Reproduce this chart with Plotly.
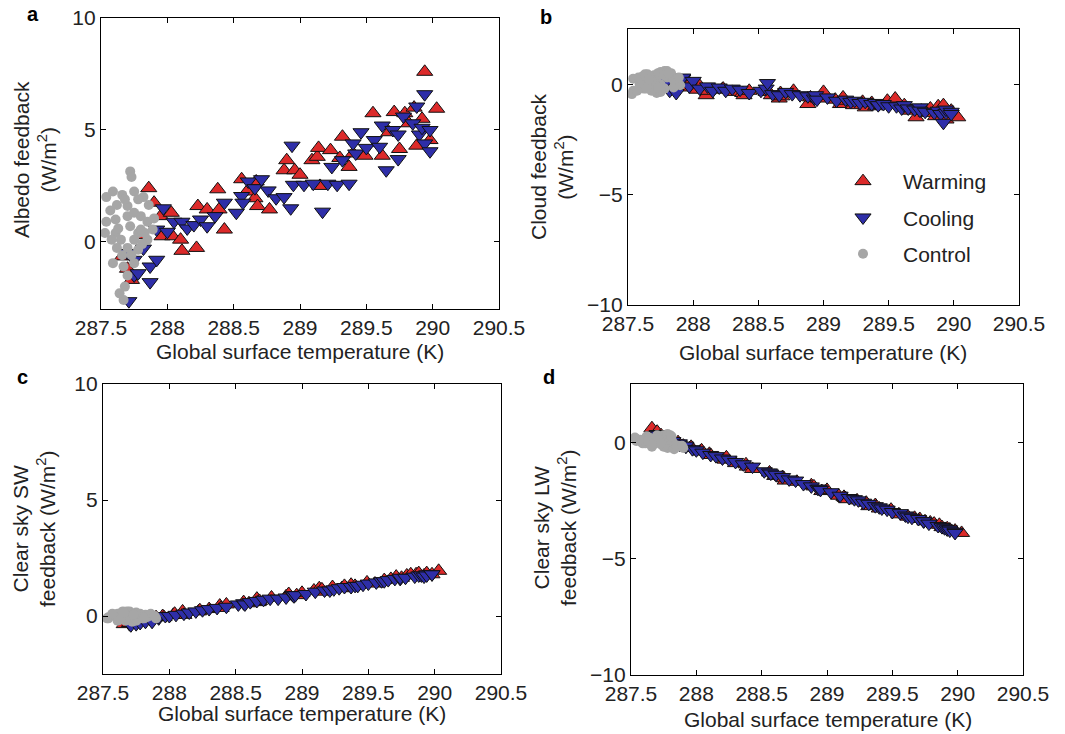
import plotly.graph_objects as go

# ---------------- data ----------------
warm_T = [287.66, 287.70, 287.73, 287.80, 287.86, 287.90, 287.95, 287.96, 288.03, 288.04,
          288.10, 288.11, 288.22, 288.23, 288.30, 288.38, 288.39, 288.43, 288.56, 288.60,
          288.66, 288.67, 288.68, 288.77, 288.88, 288.90, 288.96, 289.00, 289.09, 289.13,
          289.14, 289.15, 289.23, 289.30, 289.32, 289.37, 289.40, 289.49, 289.55, 289.62,
          289.67, 289.71, 289.75, 289.79, 289.82, 289.86, 289.88, 289.92, 289.94, 289.98, 290.03]
warm_albedo = [-0.65, -1.2, -1.7, 0.3, 2.4, 1.75, 1.15, 0.25, 1.3, 0.25,
               0.1, -0.4, -0.27, 1.6, 1.45, 2.35, 1.45, 0.55, 2.8, 2.25,
               1.95, 2.7, 1.6, 1.45, 3.2, 3.65, 3.2, 3.0, 3.65, 3.8,
               4.2, 2.5, 4.1, 3.75, 4.7, 3.35, 3.95, 3.85, 5.75, 3.85,
               4.9, 5.8, 4.15, 5.75, 5.3, 6.0, 4.3, 5.5, 7.6, 4.55, 5.95]
warm_cloud = [0.05, 0.1, 0.0, 0.15, 0.2, -0.1, -0.15, 0.1, -0.25, 0.0,
              -0.5, -0.3, -0.25, -0.2, -0.35, -0.4, -0.5, -0.3, -0.35, -0.5,
              -0.65, -0.4, -0.55, -0.3, -0.9, -0.6, -0.65, -0.35, -0.7, -0.9,
              -0.75, -0.6, -0.95, -0.8, -1.05, -0.85, -1.0, -0.75, -0.65, -0.95,
              -1.2, -1.5, -1.2, -1.3, -1.1, -1.45, -1.0, -0.95, -1.6, -1.2, -1.5]
warm_sw = [-0.35, -0.3, -0.25, -0.2, -0.1, -0.05, 0.0, -0.05, 0.05, 0.1,
           0.2, 0.05, 0.2, 0.25, 0.3, 0.45, 0.35, 0.5, 0.6, 0.55,
           0.75, 0.6, 0.65, 0.8, 0.85, 0.95, 0.9, 1.0, 1.1, 1.2,
           1.05, 1.15, 1.25, 1.2, 1.3, 1.35, 1.3, 1.45, 1.4, 1.55,
           1.6, 1.7, 1.65, 1.75, 1.8, 1.8, 1.85, 1.75, 1.85, 1.8, 1.95]
warm_lw = [0.6, 0.45, 0.3, 0.15, 0.0, -0.15, -0.25, -0.2, -0.4, -0.35,
           -0.5, -0.55, -0.75, -0.65, -0.9, -0.95, -1.05, -1.15, -1.3, -1.45,
           -1.5, -1.55, -1.65, -1.7, -1.85, -1.9, -2.1, -2.05, -2.3, -2.35,
           -2.4, -2.45, -2.5, -2.6, -2.75, -2.7, -2.85, -2.9, -3.1, -3.2,
           -3.25, -3.3, -3.4, -3.45, -3.5, -3.55, -3.65, -3.7, -3.75, -3.8, -3.9]

cool_T = [287.70, 287.71, 287.75, 287.75, 287.78, 287.82, 287.87, 287.87, 287.92, 287.92,
          287.97, 288.00, 288.05, 288.11, 288.15, 288.20, 288.25, 288.30, 288.36, 288.43,
          288.52, 288.56, 288.57, 288.61, 288.66, 288.71, 288.76, 288.82, 288.88, 288.93,
          288.94, 288.95, 289.03, 289.10, 289.17, 289.21, 289.24, 289.28, 289.32, 289.37,
          289.40, 289.42, 289.46, 289.50, 289.56, 289.60, 289.62, 289.65, 289.70, 289.74,
          289.74, 289.78, 289.85, 289.88, 289.90, 289.92, 289.94, 289.94, 289.98, 289.98]
cool_albedo = [-0.5, -2.65, -0.8, -1.5, -1.4, -0.3, -1.1, -1.8, -0.8, 0.55,
               1.5, 0.45, 0.9, 0.9, 0.6, 0.75, 1.0, 0.7, 1.15, 1.75,
               1.3, 2.05, 1.75, 2.7, 2.4, 2.8, 2.3, 1.95, 2.0, 1.5,
               4.3, 2.55, 2.55, 2.6, 1.35, 2.6, 3.35, 2.55, 3.65, 2.6,
               4.4, 3.95, 4.9, 4.2, 4.55, 4.25, 5.2, 3.2, 5.0, 4.8,
               3.7, 5.6, 5.3, 6.05, 4.8, 5.1, 6.6, 4.4, 5.0, 4.05]
cool_cloud = [-0.1, -0.2, 0.1, -0.15, 0.0, -0.3, -0.2, -0.4, 0.25, 0.3,
              -0.1, 0.15, -0.2, -0.1, -0.3, -0.15, -0.3, -0.2, -0.25, -0.4,
              -0.3, -0.2, 0.05, -0.45, -0.5, -0.35, -0.45, -0.5, -0.55, -0.65,
              -0.5, -0.7, -0.6, -0.75, -0.7, -0.8, -0.75, -0.85, -0.8, -0.9,
              -0.85, -0.95, -0.9, -1.0, -1.0, -1.1, -0.95, -1.1, -1.15, -1.05,
              -1.2, -1.25, -1.3, -1.2, -1.35, -1.75, -1.3, -1.15, -1.25, -1.35]
cool_sw = [-0.35, -0.4, -0.3, -0.35, -0.3, -0.25, -0.2, -0.25, -0.1, -0.05,
           0.0, 0.0, 0.05, 0.1, 0.15, 0.2, 0.25, 0.3, 0.35, 0.4,
           0.5, 0.55, 0.5, 0.6, 0.65, 0.7, 0.75, 0.75, 0.8, 0.9,
           0.85, 0.9, 0.95, 1.05, 1.1, 1.1, 1.15, 1.2, 1.25, 1.25,
           1.3, 1.3, 1.35, 1.4, 1.45, 1.5, 1.5, 1.55, 1.6, 1.6,
           1.65, 1.65, 1.7, 1.75, 1.75, 1.7, 1.8, 1.75, 1.8, 1.8]
cool_lw = [0.35, 0.3, 0.2, 0.25, 0.15, 0.05, -0.05, -0.1, -0.2, -0.15,
           -0.3, -0.35, -0.45, -0.55, -0.6, -0.7, -0.75, -0.85, -0.95, -1.05,
           -1.25, -1.3, -1.35, -1.4, -1.5, -1.6, -1.65, -1.8, -1.9, -2.0,
           -2.0, -2.05, -2.15, -2.3, -2.4, -2.45, -2.5, -2.6, -2.65, -2.75,
           -2.8, -2.85, -2.9, -3.0, -3.05, -3.15, -3.2, -3.25, -3.3, -3.4,
           -3.4, -3.5, -3.6, -3.65, -3.7, -3.75, -3.75, -3.8, -3.85, -3.9]

ctrl_T = [287.72, 287.73, 287.59, 287.54, 287.66, 287.75, 287.82, 287.86, 287.62, 287.70,
          287.78, 287.54, 287.53, 287.61, 287.61, 287.70, 287.75, 287.80, 287.85, 287.72,
          287.78, 287.83, 287.65, 287.75, 287.85, 287.62, 287.70, 287.78, 287.59, 287.67,
          287.75, 287.70, 287.68, 287.67, 287.64, 287.58, 287.90, 287.68, 287.80, 287.89,
          287.57, 287.63, 287.73, 287.81, 287.66]
ctrl_albedo = [3.15, 2.9, 2.25, 2.0, 2.1, 2.25, 2.0, 1.65, 1.65, 1.6,
               1.9, 0.9, 0.4, 1.0, 0.4, 1.15, 1.3, 1.15, 0.9, 0.7,
               0.4, 0.4, 0.1, 0.1, 0.1, -0.27, -0.27, -0.35, -0.95, -1.1,
               -0.95, -1.5, -2.0, -2.6, -2.3, 0.1, 1.05, 1.9, 0.55, 0.55,
               1.4, 0.6, -0.6, -0.1, -0.6]
ctrl_cloud = [0.3, 0.5, 0.0, -0.3, 0.2, 0.55, 0.45, 0.1, -0.2, 0.4,
              0.6, 0.25, -0.45, 0.35, 0.1, -0.1, 0.0, 0.3, -0.15, -0.4,
              -0.2, 0.5, 0.45, -0.35, 0.2, 0.15, 0.05, 0.4, -0.1, 0.25,
              -0.25, 0.1, -0.3, 0.35, -0.2, 0.3, -0.05, 0.15, 0.6, 0.3,
              -0.3, 0.45, -0.15, 0.5, 0.2]
ctrl_sw = [0.1, -0.05, 0.0, -0.1, 0.15, -0.2, 0.05, 0.1, -0.15, 0.2,
           0.0, -0.05, -0.1, 0.1, -0.2, 0.05, 0.15, -0.1, 0.0, -0.25,
           0.1, -0.05, 0.2, -0.15, 0.05, 0.0, 0.15, -0.1, 0.05, -0.2,
           0.1, -0.05, 0.0, -0.15, 0.15, 0.05, -0.1, 0.2, -0.05, 0.0,
           0.1, -0.15, 0.05, -0.1, 0.15]
ctrl_lw = [0.2, -0.1, 0.05, 0.15, -0.2, 0.3, 0.0, -0.15, 0.25, 0.1,
           -0.25, 0.05, 0.2, -0.05, 0.15, 0.3, -0.1, 0.0, -0.2, 0.25,
           0.1, -0.3, 0.05, 0.2, -0.15, 0.15, 0.0, 0.35, -0.05, 0.1,
           -0.2, 0.25, 0.05, -0.1, 0.2, 0.0, -0.25, 0.15, 0.3, -0.15,
           0.1, 0.05, -0.05, 0.25, -0.1]

x_ticks = [287.5, 288, 288.5, 289, 289.5, 290, 290.5]
x_ticktext = ["287.5", "288", "288.5", "289", "289.5", "290", "290.5"]
series_names = ["Warming", "Cooling", "Control"]
panel_letters = ["a", "b", "c", "d"]
panel_ylabels = ["Albedo feedback<br>(W/m<sup>2</sup>)",
                 "Cloud feedback<br>(W/m<sup>2</sup>)",
                 "Clear sky SW<br>feedback (W/m<sup>2</sup>)",
                 "Clear sky LW<br>feedback (W/m<sup>2</sup>)"]
xlabel = "Global surface temperature (K)"

# ---------------- styling ----------------
W, H = 1065, 734
FONT = "Liberation Sans, Arial, Helvetica, sans-serif"
RED = "#dc2a2a"
BLUE = "#2e2ea8"
GREY = "#a6a6a6"


def px(v):
    return v / W


def py(v):
    return 1 - v / H


# pixel boxes of the four axes: (left, right, top, bottom)
boxes = [(101, 499, 18, 309), (628, 1019, 29, 305),
         (103, 501, 384, 674), (631, 1023, 384, 675)]
yranges = [[-3, 10.005], [-10.005, 2.5], [-2.5, 10.005], [-10.005, 2.5]]
yticks_list = [([0, 5, 10], ["0", "5", "10"]),
               ([-10, -5, 0], ["\u221210", "\u22125", "0"]),
               ([0, 5, 10], ["0", "5", "10"]),
               ([-10, -5, 0], ["\u221210", "\u22125", "0"])]

warm_y = [warm_albedo, warm_cloud, warm_sw, warm_lw]
cool_y = [cool_albedo, cool_cloud, cool_sw, cool_lw]
ctrl_y = [ctrl_albedo, ctrl_cloud, ctrl_sw, ctrl_lw]

fig = go.Figure()
layout = dict(template="none", width=W, height=H, autosize=False,
              margin=dict(l=0, r=0, t=0, b=0, pad=0, autoexpand=False),
              paper_bgcolor="white", plot_bgcolor="white",
              font=dict(family=FONT, size=21, color="black"))

annotations = []
for i in range(4):
    l, r, t, b = boxes[i]
    xs = "" if i == 0 else str(i + 1)
    xa, ya = "x" + xs, "y" + xs
    axis_common = dict(showline=True, linecolor="black", linewidth=1.3, mirror="ticks",
                       ticks="inside", ticklen=5, tickwidth=1.2, tickcolor="black",
                       showgrid=False, zeroline=False, automargin=False,
                       tickfont=dict(family=FONT, size=21, color="#222"))
    layout["xaxis" + xs] = dict(domain=[px(l), px(r)], anchor=ya, range=[287.5, 290.5],
                                tickvals=x_ticks, ticktext=x_ticktext, **axis_common)
    layout["yaxis" + xs] = dict(domain=[py(b), py(t)], anchor=xa, range=yranges[i],
                                tickvals=yticks_list[i][0], ticktext=yticks_list[i][1],
                                **axis_common)
    show = (i == 1)
    fig.add_trace(go.Scatter(x=warm_T, y=warm_y[i], mode="markers", name=series_names[0],
                             legendgroup="w", showlegend=show, xaxis=xa, yaxis=ya,
                             marker=dict(symbol="triangle-up", size=14, color=RED,
                                         line=dict(color="#111", width=1))))
    fig.add_trace(go.Scatter(x=cool_T, y=cool_y[i], mode="markers", name=series_names[1],
                             legendgroup="c", showlegend=show, xaxis=xa, yaxis=ya,
                             marker=dict(symbol="triangle-down", size=14, color=BLUE,
                                         line=dict(color="#111", width=1))))
    fig.add_trace(go.Scatter(x=ctrl_T, y=ctrl_y[i], mode="markers", name=series_names[2],
                             legendgroup="k", showlegend=show, xaxis=xa, yaxis=ya,
                             marker=dict(symbol="circle", size=10, color=GREY,
                                         line=dict(width=0))))

# text placement (pixels)
letter_pos = [(33, 14), (546, 17), (22, 377), (549, 377)]
ylab_pos = [(35, 160), (552, 167), (34, 529), (555, 528)]
xlab_pos = [(300, 351), (823, 352), (302, 713), (828, 719)]
for i in range(4):
    lx, ly = letter_pos[i]
    annotations.append(dict(text="<b>%s</b>" % panel_letters[i], x=px(lx), y=py(ly),
                            xref="paper", yref="paper", showarrow=False,
                            font=dict(family=FONT, size=20, color="black"),
                            xanchor="center", yanchor="middle"))
    yx, yy = ylab_pos[i]
    annotations.append(dict(text=panel_ylabels[i], x=px(yx), y=py(yy),
                            xref="paper", yref="paper", showarrow=False, textangle=-90,
                            font=dict(family=FONT, size=21, color="#222"),
                            xanchor="center", yanchor="middle"))
    xx, xy = xlab_pos[i]
    annotations.append(dict(text=xlabel, x=px(xx), y=py(xy),
                            xref="paper", yref="paper", showarrow=False,
                            font=dict(family=FONT, size=21, color="#222"),
                            xanchor="center", yanchor="middle"))

layout["annotations"] = annotations
layout["showlegend"] = True
layout["legend"] = dict(x=px(823), y=py(161), xanchor="left", yanchor="top",
                        bgcolor="rgba(0,0,0,0)", borderwidth=0,
                        font=dict(family=FONT, size=21, color="#222"),
                        itemwidth=70, tracegroupgap=6, traceorder="grouped")
fig.update_layout(**layout)
fig.write_html("out.html", config={"displayModeBar": False},
               post_script="document.body.style.margin='0';"
                           "document.body.style.overflow='hidden';")
